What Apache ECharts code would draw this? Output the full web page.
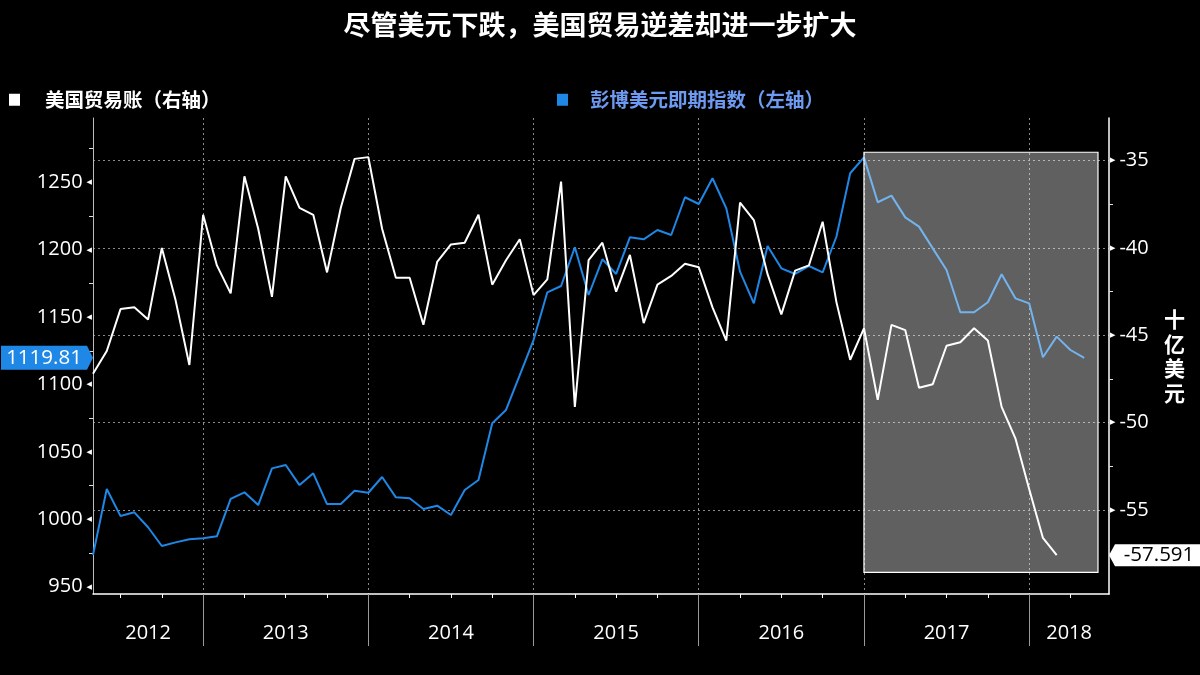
<!DOCTYPE html>
<html>
<head>
<meta charset="utf-8">
<script src="https://cdn.jsdelivr.net/npm/echarts@6/dist/echarts.min.js"></script>
<style>html,body{margin:0;padding:0;background:#000}#c{width:1200px;height:675px}</style>
</head>
<body>
<div id="c"></div>
<script>
// ---------- data ----------
const dollarMonths = [
  '2012-04','2012-05','2012-06','2012-07','2012-08','2012-09','2012-10','2012-11','2012-12',
  '2013-01','2013-02','2013-03','2013-04','2013-05','2013-06','2013-07','2013-08','2013-09','2013-10','2013-11','2013-12',
  '2014-01','2014-02','2014-03','2014-04','2014-05','2014-06','2014-07','2014-08','2014-09','2014-10','2014-11','2014-12',
  '2015-01','2015-02','2015-03','2015-04','2015-05','2015-06','2015-07','2015-08','2015-09','2015-10','2015-11','2015-12',
  '2016-01','2016-02','2016-03','2016-04','2016-05','2016-06','2016-07','2016-08','2016-09','2016-10','2016-11','2016-12',
  '2017-01','2017-02','2017-03','2017-04','2017-05','2017-06','2017-07','2017-08','2017-09','2017-10','2017-11','2017-12',
  '2018-01','2018-02','2018-03','2018-04'
];
// Bloomberg Dollar Spot Index (left axis)
const dollarIndex = [
  973.5, 1022.5, 1002.4, 1005.2, 994.1, 980.2, 982.9, 985.2, 985.9,
  987.4, 1015.1, 1020.0, 1010.6, 1037.8, 1040.3, 1025.4, 1034.1, 1011.3, 1011.3, 1021.2, 1019.7,
  1031.4, 1016.3, 1015.6, 1007.6, 1010.1, 1003.2, 1021.7, 1029.2, 1071.2, 1081.1, 1107.0, 1133.0,
  1168.4, 1173.1, 1201.8, 1166.4, 1192.9, 1182.0, 1209.2, 1207.7, 1214.6, 1210.9, 1238.9, 1233.9,
  1253.0, 1230.7, 1183.7, 1160.2, 1202.7, 1186.2, 1182.0, 1187.9, 1183.2, 1209.6, 1256.7, 1268.5,
  1235.2, 1240.1, 1224.0, 1217.1, 1201.0, 1184.9, 1153.6, 1153.6, 1161.0, 1181.8, 1163.9, 1160.2,
  1120.2, 1135.5, 1125.6, 1119.81
];
// US trade balance, billions USD (right axis)
const tradeBalance = [
  -47.2, -45.9, -43.5, -43.4, -44.1, -40.0, -43.0, -46.7, -38.1,
  -41.0, -42.6, -35.9, -38.9, -42.8, -35.9, -37.7, -38.1, -41.4, -37.7, -34.9, -34.8,
  -38.9, -41.7, -41.7, -44.4, -40.8, -39.8, -39.7, -38.1, -42.1, -40.7, -39.5, -42.7,
  -41.8, -36.2, -49.1, -40.7, -39.7, -42.5, -40.4, -44.3, -42.1, -41.6, -40.9, -41.1,
  -43.4, -45.3, -37.4, -38.4, -41.5, -43.8, -41.3, -41.0, -38.5, -43.1, -46.4, -44.6,
  -48.7, -44.4, -44.7, -48.0, -47.8, -45.6, -45.4, -44.6, -45.3, -49.1, -50.9, -53.8,
  -56.6, -57.591
];
const tradeMonths = dollarMonths.slice(0, tradeBalance.length);
const yearLabels = ['2012','2013','2014','2015','2016','2017','2018'];
const shadeMonths = ['2016-12', '2018-05'];   // shaded period (month-end positions)
const shadeRange = [-34.52, -58.57];          // right-axis values of the shaded box

const seriesNames = ['美国贸易账（右轴）', '彭博美元即期指数（左轴）'];
const titleText = '尽管美元下跌，美国贸易逆差却进一步扩大';
const rightUnit = '十亿美元';

// ---------- helpers ----------
const monthPos = s => { const [y, m] = s.split('-').map(Number); return (y - 2012) * 12 + m; };
const xMin = monthPos(dollarMonths[0]);
const xMax = 77.8;
const yearStarts = yearLabels.slice(1).map((y, i) => (i + 1) * 12);
const quarterTicks = [];
yearLabels.forEach((y, i) => [3, 6, 9].forEach(q => { const v = i * 12 + q; if (v > xMin && v < xMax) quarterTicks.push(v); }));
const labelPos = yearLabels.map((y, i) => (Math.max(i * 12, xMin) + Math.min((i + 1) * 12, xMax)) / 2);

const whiteData = tradeMonths.map((m, i) => [monthPos(m), tradeBalance[i]]);
const blueData = dollarMonths.map((m, i) => [monthPos(m), dollarIndex[i]]);
const lastTrade = tradeBalance[tradeBalance.length - 1];
const lastDollar = dollarIndex[dollarIndex.length - 1];

const NUM = 'Open Sans';
const CJK = 'Noto Sans CJK SC';
const BLUE = '#1f87e5';
const GRID = { left: 93, right: 91, top: 118, bottom: 81 };
const dotted = { color: '#8a8a8a', width: 1, type: [2, 3] };

const chart = echarts.init(document.getElementById('c'), null, { renderer: 'canvas' });
chart.setOption({
  backgroundColor: '#000',
  animation: false,
  title: {
    text: titleText, left: 'center', top: 6,
    textStyle: { color: '#fff', fontSize: 27, fontWeight: 'bold', fontFamily: CJK }
  },
  legend: [
    {
      data: [{ name: seriesNames[0], textStyle: { color: '#ffffff' } }],
      left: 9, top: 90, padding: 0, icon: 'rect', itemWidth: 11, itemHeight: 12, selectedMode: false,
      textStyle: { fontSize: 19.5, fontWeight: 'bold', fontFamily: CJK, padding: [0, 0, 0, 20] }
    },
    {
      data: [{ name: seriesNames[1], textStyle: { color: '#6d9bf1' } }],
      left: 557, top: 90, padding: 0, icon: 'rect', itemWidth: 11, itemHeight: 12, selectedMode: false,
      textStyle: { fontSize: 19.5, fontWeight: 'bold', fontFamily: CJK, padding: [0, 0, 0, 17] }
    }
  ],
  grid: [Object.assign({}, GRID), Object.assign({}, GRID)],
  xAxis: [
    {
      type: 'value', gridIndex: 0, min: xMin, max: xMax, position: 'bottom',
      axisLine: { show: true, lineStyle: { color: '#ffffff', width: 1.5 } },
      axisTick: { show: true, customValues: quarterTicks, length: 4, lineStyle: { color: '#ffffff', width: 1 } },
      axisLabel: {
        show: true, customValues: labelPos, margin: 29, color: '#ffffff', fontSize: 20, fontFamily: NUM,
        formatter: v => yearLabels[Math.floor(v / 12)]
      },
      splitLine: { show: false }
    },
    {
      type: 'value', gridIndex: 1, min: xMin, max: xMax, position: 'bottom',
      axisLine: { show: false },
      axisTick: { show: true, customValues: yearStarts, length: 52, lineStyle: { color: '#9a9a9a', width: 1 } },
      axisLabel: { show: false, customValues: yearStarts },
      splitLine: { show: true, lineStyle: dotted }
    }
  ],
  yAxis: [
    {
      type: 'value', gridIndex: 0, position: 'left', min: 944.6, max: 1297.7, splitNumber: 7,
      axisLine: { show: true, lineStyle: { color: '#bdbdbd', width: 1 } },
      axisTick: { show: false },
      minorTick: { show: true, splitNumber: 2, length: 4, lineStyle: { color: '#dddddd' } },
      splitLine: { show: false },
      axisLabel: {
        margin: 1, color: '#ffffff',
        formatter: v => (Math.abs(v % 50) < 1e-6 ? '{v|' + v + '}{t|◀}' : ''),
        rich: {
          v: { fontSize: 20, fontFamily: NUM, color: '#ffffff' },
          t: { fontSize: 7, fontFamily: 'DejaVu Sans', color: '#ffffff', padding: [0, 0, 0, 4] }
        }
      }
    },
    {
      type: 'value', gridIndex: 0, position: 'right', min: -59.81, max: -32.56, splitNumber: 5,
      axisLine: { show: true, lineStyle: { color: '#ffffff', width: 1.5 } },
      axisTick: { show: false },
      minorTick: { show: true, splitNumber: 2, length: 4, lineStyle: { color: '#dddddd' } },
      splitLine: { show: true, showMinLine: false, showMaxLine: false, lineStyle: dotted },
      axisLabel: {
        margin: 1, color: '#ffffff',
        formatter: v => (Math.abs(v % 5) < 1e-6 ? '{t|▶}{v|' + v + '}' : ''),
        rich: {
          v: { fontSize: 20, fontFamily: NUM, color: '#ffffff' },
          t: { fontSize: 7, fontFamily: 'DejaVu Sans', color: '#ffffff', padding: [0, 4, 0, 0] }
        }
      },
      name: rightUnit.split('').join('\n'),
      nameLocation: 'middle', nameRotate: 0, nameGap: 55,
      nameTextStyle: { color: '#ffffff', fontSize: 21, fontWeight: 'bold', fontFamily: CJK, lineHeight: 24.5 }
    },
    { type: 'value', gridIndex: 1, min: 0, max: 1, show: false }
  ],
  series: [
    {
      name: seriesNames[0], type: 'line', xAxisIndex: 0, yAxisIndex: 1, z: 3,
      data: whiteData, showSymbol: false, symbol: 'none',
      color: '#ffffff', lineStyle: { color: '#ffffff', width: 2 },
      markArea: {
        z: 10, silent: true,
        itemStyle: { color: 'rgba(255,255,255,0.376)', borderColor: '#ffffff', borderWidth: 1.2 },
        data: [[
          { coord: [monthPos(shadeMonths[0]), shadeRange[0]] },
          { coord: [monthPos(shadeMonths[1]), shadeRange[1]] }
        ]]
      },
      markPoint: {
        z: 20, silent: true,
        symbol: 'path://M0,11L6,0L96,0L96,22L6,22Z', symbolSize: [96, 22], symbolKeepAspect: false,
        symbolOffset: ['50%', 0],
        itemStyle: { color: '#ffffff' },
        label: { show: true, position: 'inside', color: '#000000', fontSize: 20.5, fontFamily: NUM, offset: [2, 0],
                 formatter: p => String(p.value) },
        data: [{ coord: [xMax, lastTrade], value: lastTrade }]
      }
    },
    {
      name: seriesNames[1], type: 'line', xAxisIndex: 0, yAxisIndex: 0, z: 2,
      data: blueData, showSymbol: false, symbol: 'none',
      color: BLUE, lineStyle: { color: BLUE, width: 2 },
      markPoint: {
        z: 20, silent: true,
        symbol: 'path://M0,0L86,0L92,12L86,24L0,24Z', symbolSize: [92, 24], symbolKeepAspect: false,
        symbolOffset: ['-50%', 0],
        itemStyle: { color: BLUE },
        label: { show: true, position: 'inside', color: '#ffffff', fontSize: 20.5, fontFamily: NUM, offset: [-3, 0],
                 formatter: p => String(p.value) },
        data: [{ coord: [xMin, lastDollar], value: lastDollar }]
      }
    }
  ]
});
</script>
</body>
</html>
